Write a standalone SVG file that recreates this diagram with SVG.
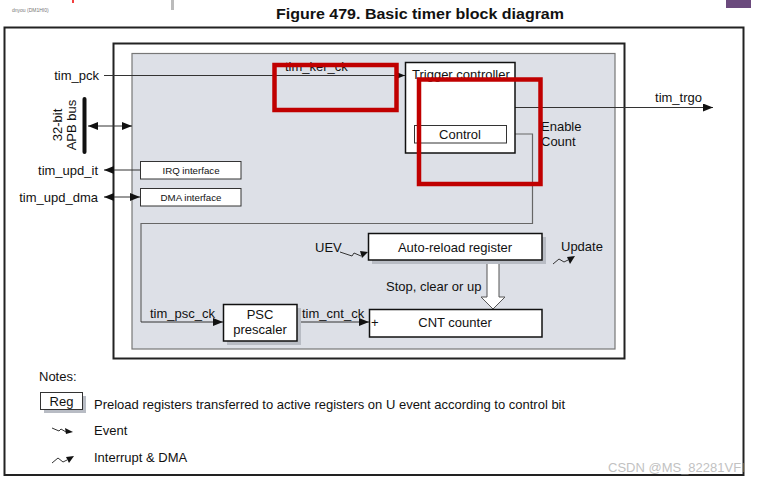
<svg xmlns="http://www.w3.org/2000/svg" width="767" height="487" viewBox="0 0 767 487">
<style>
text{font-family:"Liberation Sans",Arial,sans-serif;fill:#111}
.lbl{font-size:13px}
.sm{font-size:9.7px}
.box{fill:#fff;stroke:#111;stroke-width:1.5}
.thin{fill:#fff;stroke:#333;stroke-width:1}
.ln{fill:none;stroke:#333;stroke-width:1}
.gl{fill:none;stroke:#666;stroke-width:1.2}
.sh{fill:#b8bcc4}
.tri{fill:#111}
.red{fill:none;stroke:#c00000;stroke-width:4.5}
</style>
<defs>
<marker id="ah" viewBox="0 0 10 8" refX="10" refY="4" markerWidth="10" markerHeight="8" markerUnits="userSpaceOnUse" orient="auto-start-reverse">
<path d="M0,0 L10,4 L0,8 Z" fill="#111"/>
</marker>
</defs>
<rect width="767" height="487" fill="#fff"/>
<!-- page clutter -->
<line x1="73" y1="0" x2="73" y2="3" stroke="#e00" stroke-width="1.5"/>
<rect x="171" y="0" width="3" height="10" fill="#bbb"/>
<text x="12" y="12" style="font-size:5px;fill:#777">dnyou (DM1HI0)</text>
<rect x="726" y="0" width="25" height="8" fill="#6b4a7d"/>
<!-- title -->
<text x="420" y="18.5" text-anchor="middle" style="font-size:14px;font-weight:bold" textLength="288" lengthAdjust="spacingAndGlyphs">Figure 479. Basic timer block diagram</text>
<!-- frames -->
<rect x="4.5" y="27.5" width="739" height="447.5" fill="#fff" stroke="#222" stroke-width="2"/>
<rect x="113.5" y="43.5" width="511" height="315" fill="#fff" stroke="#222" stroke-width="2"/>
<rect x="132" y="53.5" width="483" height="295.5" fill="#dde0e7" stroke="#777" stroke-width="1.2"/>

<g id="connectors">
<line class="ln" x1="104" y1="75.5" x2="405" y2="75.5" marker-end="url(#ah)"/>
<line class="ln" x1="88" y1="126" x2="132" y2="126" marker-start="url(#ah)" marker-end="url(#ah)"/>
<line class="ln" x1="140" y1="170" x2="104" y2="170" marker-end="url(#ah)"/>
<line class="ln" x1="104" y1="197" x2="140" y2="197" marker-start="url(#ah)" marker-end="url(#ah)"/>
<line class="ln" x1="515" y1="107.5" x2="713" y2="107.5" marker-end="url(#ah)"/>
<polyline class="gl" points="506,134 532.5,134 532.5,223.5 141,223.5 141,322"/>
<polyline class="ln" points="141,322 223,322" marker-end="url(#ah)"/>
<line class="ln" x1="297" y1="322" x2="369" y2="322" marker-end="url(#ah)"/>
<polyline class="ln" points="340,252 352,256 354,253 361,256"/>
<polygon class="tri" points="368,252 360,251 362,258"/>
<polyline class="ln" points="553,264 559,259 564,262 568,260"/>
<polygon class="tri" points="575,256 567,257 570,264"/>
<path d="M487,260 L487,297 L481,297 L493,309 L505,297 L499,297 L499,260" fill="#fff" stroke="#555" stroke-width="1"/>
</g>

<g id="tim_pck"><text class="lbl" x="99" y="80" text-anchor="end">tim_pck</text></g>
<g id="apb_bus">
<rect x="82.5" y="97" width="4" height="57" rx="2" fill="#111"/>
<text class="lbl" transform="translate(62,125) rotate(-90)" text-anchor="middle">32-bit</text>
<text class="lbl" transform="translate(76,125) rotate(-90)" text-anchor="middle">APB bus</text>
</g>
<g id="tim_upd_it"><text class="lbl" x="98" y="174.5" text-anchor="end">tim_upd_it</text></g>
<g id="tim_upd_dma"><text class="lbl" x="98" y="201.5" text-anchor="end">tim_upd_dma</text></g>
<g id="irq"><rect class="thin" x="140.5" y="161.5" width="100.5" height="17.5"/><text class="sm" x="191" y="173.5" text-anchor="middle">IRQ interface</text></g>
<g id="dma"><rect class="thin" x="140.5" y="188.5" width="100.5" height="17.5"/><text class="sm" x="191" y="200.5" text-anchor="middle">DMA interface</text></g>
<g id="tim_ker_ck"><text class="lbl" x="285" y="71">tim_ker_ck</text></g>
<g id="trigger">
<rect class="box" x="405.5" y="62.5" width="109.5" height="90.5"/>
<text class="lbl" x="412" y="79">Trigger controller</text>
<rect class="thin" x="414.5" y="125.5" width="92" height="17.5" stroke="#777"/>
<text class="lbl" x="460" y="139" text-anchor="middle">Control</text>
</g>
<g id="tim_trgo"><text class="lbl" x="678.5" y="102" text-anchor="middle">tim_trgo</text></g>
<g id="enable"><text class="lbl" x="541" y="131">Enable</text><text class="lbl" x="541" y="146">Count</text></g>
<g id="arr">
<rect class="sh" x="372" y="237" width="174" height="27"/>
<rect class="box" x="368.5" y="233.5" width="173.5" height="26.5"/>
<text class="lbl" x="455" y="252" text-anchor="middle">Auto-reload register</text>
</g>
<g id="uev"><text class="lbl" x="315" y="252">UEV</text></g>
<g id="update"><text class="lbl" x="561" y="251">Update</text></g>
<g id="stop"><text class="lbl" x="386" y="290.5">Stop, clear or up</text></g>
<g id="cnt">
<rect class="box" x="369.5" y="309.5" width="172.5" height="27.5"/>
<text class="lbl" x="371" y="327">+</text>
<text class="lbl" x="455" y="327" text-anchor="middle">CNT counter</text>
</g>
<g id="psc">
<rect class="sh" x="227" y="308" width="74" height="37"/>
<rect class="box" x="223.5" y="304.5" width="73.5" height="36.5"/>
<text class="lbl" x="260" y="319" text-anchor="middle">PSC</text>
<text class="lbl" x="260" y="334" text-anchor="middle">prescaler</text>
</g>
<g id="tim_psc_ck"><text class="lbl" x="150" y="317.5">tim_psc_ck</text></g>
<g id="tim_cnt_ck"><text class="lbl" x="302" y="317.5">tim_cnt_ck</text></g>

<g id="notes">
<text class="lbl" x="39" y="381">Notes:</text>
<rect class="sh" x="44" y="396" width="42" height="17"/>
<rect class="thin" x="40.5" y="392.5" width="42" height="17" stroke="#111"/>
<text class="lbl" x="61.5" y="405.5" text-anchor="middle">Reg</text>
<text class="lbl" x="94" y="409">Preload registers transferred to active registers on U event according to control bit</text>
<polyline class="ln" points="52,428 59,431 61,429 66,432"/>
<polygon class="tri" points="73,432 65,428 66,434"/>
<text class="lbl" x="94" y="435">Event</text>
<polyline class="ln" points="52,463 58,458 63,462 67,460"/>
<polygon class="tri" points="74,456 66,457 69,463"/>
<text class="lbl" x="94" y="462">Interrupt &amp; DMA</text>
</g>

<g id="annotations">
<rect class="red" x="274.5" y="65" width="122" height="45"/>
<rect class="red" x="419" y="79.5" width="121.5" height="104.5"/>
</g>
<text x="608" y="472" style="font-size:13px;fill:#999;opacity:0.6">CSDN @MS_82281VFI</text>
</svg>
